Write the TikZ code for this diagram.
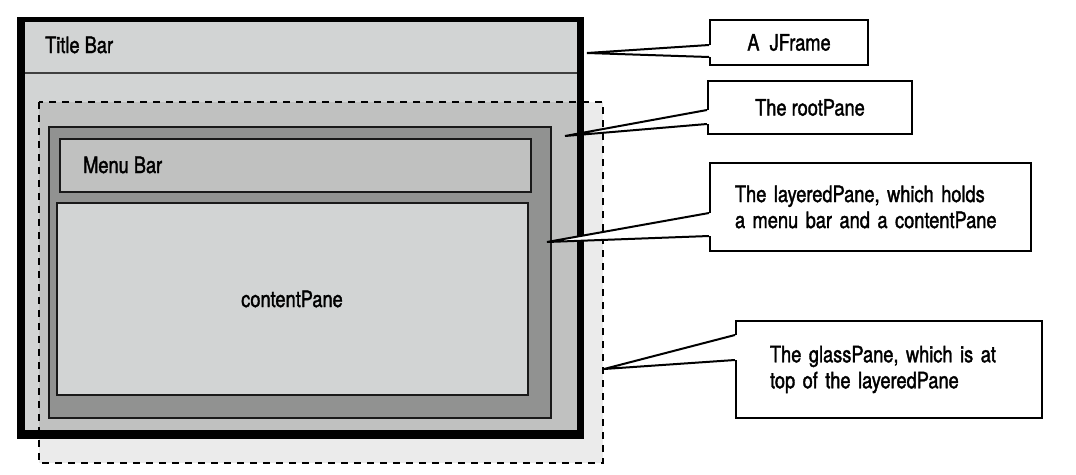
\documentclass[tikz,border=0pt]{standalone}
\usepackage{fontspec}
\setmainfont[FakeStretch=0.81,FakeBold=1.6]{TeX Gyre Heros}
\usetikzlibrary{calc}
\definecolor{lightpane}{HTML}{D2D4D4}
\definecolor{rootgray}{HTML}{C0C1C0}
\definecolor{layergray}{HTML}{919291}
\definecolor{glassgray}{HTML}{EBEBEB}
\begin{document}
\begin{tikzpicture}[x=1pt,y=-1pt,
    pane/.style={draw=black!90,line width=2pt},
    paneText/.style={inner sep=0pt,font=\fontsize{22.5}{26}\selectfont},
    box/.style={draw,line width=2pt,anchor=north west,inner sep=0pt,
      font=\fontsize{22.5}{26}\selectfont},
    callout/.style={draw,line width=2pt,fill=white}]
  \useasboundingbox (0,0) rectangle (1076,474);
  % glassPane behind the frame
  \fill[glassgray] (39,102) rectangle (603,463);
  % JFrame
  \fill[black] (17,17) rectangle (584,439);
  \fill[lightpane] (25,22) rectangle (577,430);
  \draw[black!75,line width=2pt] (25,73) -- (577,73);
  \fill[rootgray] (39,102) rectangle (577,430);
  \draw[pane,fill=layergray] (49,127) rectangle (551,418);
  \draw[pane,fill=rootgray] (60,139) rectangle (531,192);
  \draw[pane,fill=lightpane] (57,203) rectangle (528,395);
  \draw[line width=2.3pt,dash pattern=on 7pt off 6pt] (39,102) rectangle (603,463);
  \node[paneText,anchor=base west] (title) at (45,53) {Title Bar};
  \node[paneText,anchor=base west] (menu) at (83,173) {Menu Bar};
  \node[paneText] (content) at (292,299) {contentPane};
  % callouts
  \node[box,minimum width=158pt,minimum height=45pt] (jframe) at (709,19) {A~~JFrame};
  \node[box,minimum width=204pt,minimum height=53pt] (root) at (707,80) {The rootPane};
  \node[box,align=left,text width=271pt,inner xsep=25pt,minimum height=88pt] (layered)
    at (709,162) {The layeredPane, which holds\\a menu bar and a contentPane};
  \node[box,align=left,text width=238pt,inner xsep=34pt,minimum height=97pt] (glass)
    at (735,320) {The glassPane, which is at\\top of the layeredPane};
  \coordinate (tip-jframe) at (587,53);
  \coordinate (tip-root) at (565,136);
  \coordinate (tip-layered) at (547,242);
  \coordinate (tip-glass) at (604,369);
  \foreach \n/\a/\b in {jframe/26/38,root/30/44,layered/51/74,glass/15/40}{
    \draw[white,line width=3.4pt] ($(\n.north west)+(0,\a)$) -- ($(\n.north west)+(0,\b)$);
    \draw[callout] ($(\n.north west)+(0,\a)$) -- (tip-\n) -- ($(\n.north west)+(0,\b)$);
  }
\end{tikzpicture}
\end{document}
